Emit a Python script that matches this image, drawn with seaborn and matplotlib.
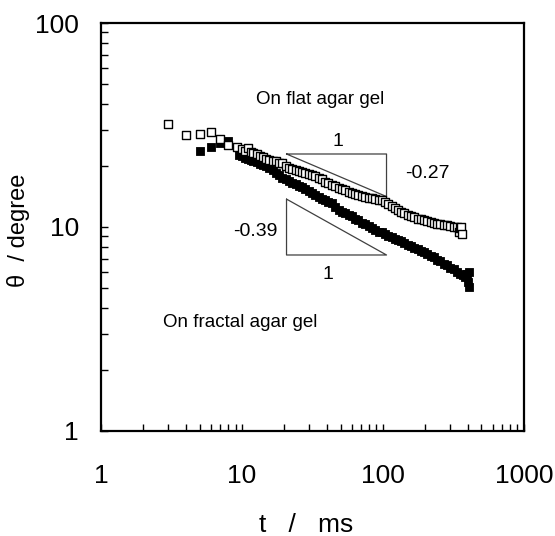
import pandas as pd
import seaborn as sns
import matplotlib.pyplot as plt
from matplotlib.ticker import FixedLocator, NullFormatter

# -------------------------
# Data (t in ms, theta in degree)
# -------------------------
t_flat = [3, 4, 5, 6, 7, 8, 9.2,
          10, 10.5, 11, 11.5, 12, 12.7, 13.4, 14, 14.8, 15.6, 16.5, 17.4, 18.3, 19.3,
          20.4, 21.5, 22.7, 24, 25.3, 26.7, 28.2, 29.8, 31.4, 33.2, 35, 37, 39, 41,
          43.5, 46, 48.5, 51, 54, 57, 60, 63.5, 67, 71, 75, 79, 83, 88, 93, 98,
          103, 109, 115, 121, 128, 135, 142, 150, 158, 167, 176, 186, 196, 207, 218,
          230, 243, 256, 270, 285, 300, 317, 334, 345, 352, 360, 365]
theta_flat = [32.0, 28.2, 28.6, 29.2, 27.0, 25.2, 24.7,
              24.1, 23.6, 24.4, 23.4, 23.1, 22.9, 22.3, 22.0, 21.6, 21.4, 21.1, 21.0, 20.7, 20.5,
              19.9, 19.5, 19.3, 19.0, 18.9, 18.6, 18.4, 18.2, 18.0, 17.7, 17.4, 17.1, 16.7, 16.4,
              16.1, 15.8, 15.6, 15.3, 15.1, 14.9, 14.7, 14.5, 14.4, 14.2, 14.1, 13.9, 13.8, 13.7, 13.6, 13.5,
              13.3, 13.0, 12.7, 12.4, 12.1, 11.9, 11.7, 11.5, 11.3, 11.2, 11.0, 10.9, 10.8, 10.7, 10.6,
              10.5, 10.4, 10.3, 10.2, 10.2, 10.1, 10.0, 10.0, 9.4, 9.9, 10.0, 9.2]

t_fractal = [5, 6, 7, 8, 9.5,
             10, 10.5, 11, 11.5, 12, 12.7, 13.4, 14, 14.8, 15.6, 16.5, 17.4, 18.3, 19.3,
             20.4, 21.5, 22.7, 24, 25.3, 26.7, 28.2, 29.8, 31.4, 33.2, 35, 37, 39, 41,
             43.5, 46, 48.5, 51, 54, 57, 60, 63.5, 67, 71, 75, 79, 83, 88, 93, 98,
             103, 109, 115, 121, 128, 135, 142, 150, 158, 167, 176, 186, 196, 207, 218,
             230, 243, 256, 270, 285, 300, 317, 334, 352, 370, 385, 395, 400, 405, 405]
theta_fractal = [23.6, 24.7, 25.8, 26.4, 22.5,
                 22.3, 21.8, 21.6, 21.3, 21.0, 20.8, 20.4, 20.1, 19.8, 19.4, 19.0, 18.4, 17.9, 17.4,
                 17.1, 16.8, 16.5, 16.2, 15.9, 15.7, 15.3, 15.0, 14.7, 14.3, 14.0, 13.7, 13.5, 13.3,
                 13.1, 12.6, 12.1, 11.8, 11.7, 11.5, 11.3, 11.0, 10.8, 10.5, 10.3, 10.1, 9.9, 9.7, 9.5, 9.4,
                 9.2, 9.0, 8.9, 8.7, 8.6, 8.5, 8.3, 8.2, 8.1, 7.9, 7.8, 7.6, 7.5, 7.4, 7.2,
                 7.1, 6.9, 6.8, 6.6, 6.5, 6.3, 6.2, 6.0, 5.9, 5.8, 5.7, 5.9, 5.4, 6.0, 5.1]

# slope triangles (corner points)
tri_flat_t = [20.7, 106, 106, 20.7]
tri_flat_theta = [22.8, 22.8, 14.1, 22.8]
tri_fractal_t = [20.7, 20.7, 106, 20.7]
tri_fractal_theta = [13.7, 7.29, 7.29, 13.7]

flat = pd.DataFrame({"t": t_flat, "theta": theta_flat})
fractal = pd.DataFrame({"t": t_fractal, "theta": theta_fractal})

# -------------------------
# Plot
# -------------------------
sns.set_style("ticks")
plt.rcParams["font.family"] = ["Liberation Sans", "DejaVu Sans"]
plt.rcParams["text.color"] = "black"
plt.rcParams["axes.labelcolor"] = "black"
plt.rcParams["xtick.color"] = "black"
plt.rcParams["ytick.color"] = "black"

fig = plt.figure(figsize=(5.55, 5.36), dpi=100)
ax = fig.add_axes([0.182, 0.196, 0.762, 0.761])

sns.scatterplot(data=fractal, x="t", y="theta", marker="s", s=38,
                color="black", edgecolor="black", linewidth=0.6, ax=ax, zorder=3)
sns.scatterplot(data=flat, x="t", y="theta", marker="s", s=30,
                facecolor="white", edgecolor="black", linewidth=1.0, ax=ax, zorder=4)

ax.plot(tri_flat_t, tri_flat_theta, color="#404040", lw=0.9)
ax.plot(tri_fractal_t, tri_fractal_theta, color="#404040", lw=0.9)

ax.set_xscale("log")
ax.set_yscale("log")
ax.set_xlim(1, 1000)
ax.set_ylim(1, 100)

ax.xaxis.set_major_locator(FixedLocator([1, 10, 100, 1000]))
ax.yaxis.set_major_locator(FixedLocator([1, 10, 100]))
ax.set_xticklabels(["1", "10", "100", "1000"])
ax.set_yticklabels(["1", "10", "100"])
ax.xaxis.set_minor_formatter(NullFormatter())
ax.yaxis.set_minor_formatter(NullFormatter())

ax.tick_params(which="both", direction="in", top=False, right=False,
               length=5, width=1, color="black", labelcolor="black")
ax.tick_params(axis="x", which="major", labelsize=19, pad=24)
ax.tick_params(axis="y", which="major", labelsize=19, pad=16)

for sp in ax.spines.values():
    sp.set_linewidth(1.6)
    sp.set_color("black")

ax.set_xlabel("t   /   ms", fontsize=19, color="black")
ax.set_ylabel("θ  / degree", fontsize=17, color="black")
ax.xaxis.set_label_coords(0.485, -0.2)
ax.yaxis.set_label_coords(-0.168, 0.493)

# annotations
ax.text(35.7, 42.0, "On flat agar gel", fontsize=13.5, ha="center", va="center")
ax.text(9.68, 3.42, "On fractal agar gel", fontsize=13.5, ha="center", va="center")
ax.text(48, 26.4, "1", fontsize=14, ha="center", va="center")
ax.text(208, 18.2, "-0.27", fontsize=14, ha="center", va="center")
ax.text(12.4, 9.55, "-0.39", fontsize=14, ha="center", va="center")
ax.text(40.7, 5.82, "1", fontsize=14, ha="center", va="center")

fig.savefig("out.png", dpi=100)
